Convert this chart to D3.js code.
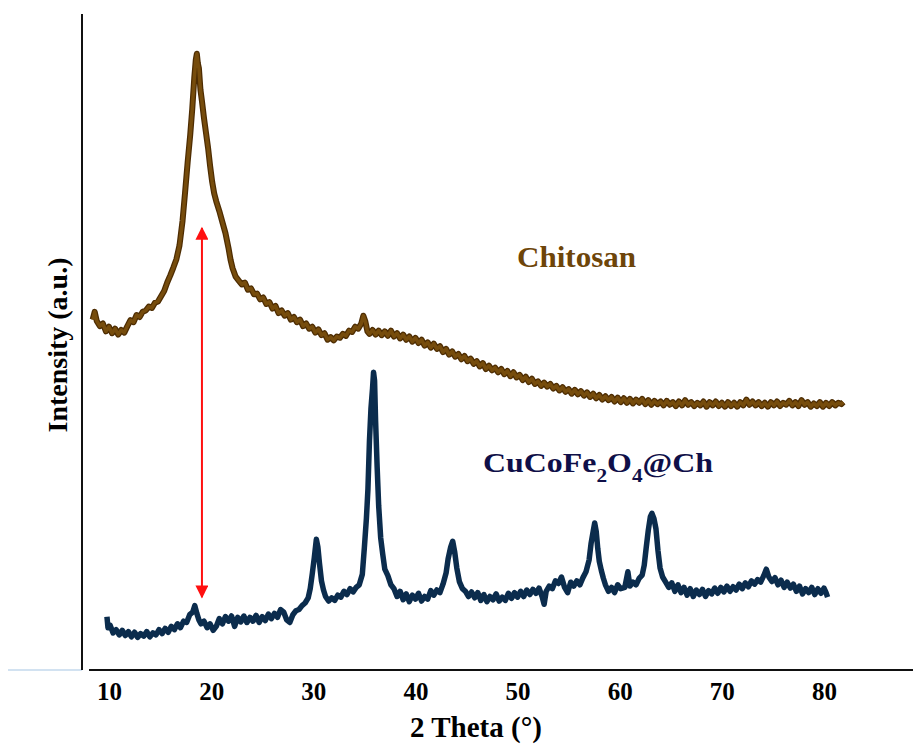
<!DOCTYPE html>
<html>
<head>
<meta charset="utf-8">
<script src="https://cdn.jsdelivr.net/npm/d3@7"></script>
<style>
  body { margin: 0; background: #fff; }
  svg { display: block; }
  .lbl { font-family: "Liberation Serif", "Times New Roman", serif; font-weight: bold; }
</style>
</head>
<body>
<div id="chart"></div>
<script>
// Tick labels on the 2-theta axis
const thetaTicks = [10, 20, 30, 40, 50, 60, 70, 80];

// Chitosan pattern: [2theta, intensity a.u.]
const chitosan = [
  [8.4,53.6],[8.6,54.8],[8.8,53.4],[9.1,52.6],[9.4,53.0],[9.7,51.8],[10.0,52.5],[10.3,51.5],
  [10.6,52.2],[10.9,51.3],[11.2,52.0],[11.5,51.6],[11.8,52.6],[12.1,53.5],[12.4,53.2],[12.7,54.3],
  [13.0,54.0],[13.3,54.8],[13.6,55.0],[13.9,55.6],[14.2,55.4],[14.5,56.2],[14.8,56.4],[15.1,57.2],
  [15.4,58.0],[15.7,59.3],[16.0,60.4],[16.3,61.6],[16.6,62.9],[16.9,65.0],[17.2,68.8],[17.45,73.2],
  [17.7,77.8],[17.95,82.0],[18.15,86.0],[18.35,90.8],[18.5,93.6],[18.6,94.5],[18.7,93.0],[18.8,92.3],
  [18.95,89.0],[19.1,87.2],[19.3,84.6],[19.5,82.3],[19.7,80.0],[19.9,77.2],[20.1,74.8],[20.3,73.0],
  [20.5,71.8],[20.8,70.3],[21.1,68.6],[21.4,66.9],[21.7,64.6],[21.9,62.8],
  [22.1,61.5],[22.4,60.2],[22.7,59.6],[23.0,59.0],[23.3,59.3],[23.6,58.2],[23.9,58.4],[24.2,57.5],
  [24.5,57.6],[24.8,56.7],[25.1,57.0],[25.4,56.0],[25.7,56.3],[26.0,55.3],[26.3,55.7],[26.6,54.6],
  [26.9,55.0],[27.2,54.2],[27.5,54.6],[27.8,53.6],[28.1,54.0],[28.4,53.2],[28.7,53.6],[29.0,52.6],
  [29.3,53.0],[29.6,52.2],[29.9,52.5],[30.2,51.6],[30.5,52.1],[30.8,51.2],[31.1,51.5],[31.4,50.5],
  [31.7,50.9],[32.0,50.4],[32.3,51.0],[32.6,50.8],[32.9,51.4],[33.2,51.1],[33.5,51.9],[33.8,51.7],
  [34.1,52.5],[34.4,52.2],[34.7,53.0],[34.9,54.2],[35.1,53.3],[35.3,51.8],
  [35.5,51.4],[35.8,52.0],[36.1,51.3],[36.4,51.9],[36.7,51.2],[37.0,51.8],[37.3,51.1],[37.6,51.9],
  [37.9,51.0],[38.2,51.5],[38.5,50.7],[38.8,51.3],[39.1,50.5],[39.4,51.0],[39.7,50.2],[40.0,50.8],
  [40.3,50.0],[40.6,50.5],[40.9,49.6],[41.2,50.1],[41.5,49.3],[41.8,49.9],[42.1,49.1],[42.4,49.5],
  [42.7,48.6],[43.0,49.1],[43.3,48.2],[43.6,48.7],[43.9,47.9],[44.2,48.3],[44.5,47.5],[44.8,48.0],
  [45.1,47.2],[45.4,47.6],[45.7,46.8],[46.0,47.2],[46.3,46.4],[46.6,46.9],[46.9,46.0],[47.2,46.5],
  [47.5,45.8],[47.8,46.2],[48.1,45.5],[48.4,46.0],[48.7,45.2],[49.0,45.7],[49.3,44.9],[49.6,45.5],
  [49.9,44.7],[50.2,45.1],[50.5,44.3],[50.8,44.8],[51.1,44.0],[51.4,44.5],[51.7,43.7],[52.0,44.1],
  [52.3,43.4],[52.6,43.9],[52.9,43.3],[53.2,43.7],[53.5,43.0],[53.8,43.4],[54.1,42.7],[54.4,43.2],
  [54.7,42.5],[55.0,42.9],[55.3,42.2],[55.6,42.8],[55.9,42.1],[56.2,42.6],[56.5,41.9],[56.8,42.4],
  [57.1,41.7],[57.4,42.2],[57.7,41.5],[58.0,42.0],[58.3,41.3],[58.6,41.8],[58.9,41.2],[59.2,41.7],
  [59.5,41.0],[59.8,41.6],[60.1,40.9],[60.4,41.5],[60.7,40.8],[61.0,41.4],[61.3,40.7],[61.6,41.3],
  [61.9,40.8],[62.2,41.4],[62.5,40.6],[62.8,41.2],[63.1,40.5],[63.4,41.1],[63.7,40.6],[64.0,41.0],
  [64.3,40.4],[64.6,41.1],[64.9,40.5],[65.2,40.9],[65.5,40.3],[65.8,41.0],[66.1,40.4],[66.4,41.2],
  [66.7,40.5],[67.0,40.9],[67.3,40.3],[67.6,40.8],[67.9,40.4],[68.2,41.0],[68.5,40.2],[68.8,40.9],
  [69.1,40.4],[69.4,41.0],[69.7,40.3],[70.0,40.8],[70.3,40.2],[70.6,40.9],[70.9,40.3],[71.2,40.8],
  [71.5,40.2],[71.8,40.9],[72.1,40.4],[72.4,41.3],[72.7,40.5],[73.0,41.0],[73.3,40.4],[73.6,40.9],
  [73.9,40.3],[74.2,40.8],[74.5,40.2],[74.8,40.9],[75.1,40.4],[75.4,41.0],[75.7,40.3],[76.0,40.8],
  [76.3,40.5],[76.6,41.1],[76.9,40.4],[77.2,40.9],[77.5,40.3],[77.8,41.2],[78.1,40.5],[78.4,40.9],
  [78.7,40.2],[79.0,40.7],[79.3,40.3],[79.6,40.9],[79.9,40.2],[80.2,40.8],[80.5,40.3],[80.8,40.9],
  [81.1,40.4],[81.4,40.8],[81.7,40.6],[81.9,40.9]
];

// CuCoFe2O4@Ch pattern: [2theta, intensity a.u.]
const cucofe = [
  [9.8,7.9],[9.9,6.2],[10.1,6.6],[10.4,5.4],[10.7,5.9],[11.0,5.1],[11.3,5.8],[11.6,5.0],
  [11.9,5.6],[12.2,4.8],[12.5,5.5],[12.8,4.7],[13.1,5.3],[13.4,4.9],[13.7,5.6],[14.0,4.8],
  [14.3,5.4],[14.6,5.1],[14.9,5.9],[15.2,5.3],[15.5,6.1],[15.8,5.5],[16.1,6.4],[16.4,5.9],
  [16.7,6.8],[17.0,6.2],[17.3,7.2],[17.6,7.0],[17.9,8.2],[18.2,8.6],[18.4,9.6],[18.6,8.4],
  [18.8,7.4],[19.0,6.8],[19.3,7.2],[19.6,6.2],[19.9,6.8],[20.2,5.8],[20.5,6.4],[20.8,7.6],
  [21.1,6.8],[21.4,7.9],[21.7,7.2],[22.0,8.0],[22.3,6.4],[22.6,7.8],[22.9,7.1],[23.2,8.0],
  [23.5,7.0],[23.8,7.8],[24.1,7.2],[24.4,8.1],[24.7,7.0],[25.0,7.9],[25.3,7.3],[25.6,8.3],
  [25.9,7.6],[26.2,8.4],[26.5,7.8],[26.8,9.0],[27.1,8.6],[27.4,7.4],[27.7,7.0],[28.0,8.2],
  [28.3,8.8],[28.6,9.0],[28.9,9.6],[29.2,10.0],[29.5,10.8],[29.7,12.2],[29.9,14.5],[30.1,17.0],
  [30.3,19.8],[30.45,18.6],[30.6,16.2],[30.8,13.4],[31.0,12.0],[31.2,11.0],[31.5,10.3],[31.8,10.8],
  [32.1,10.4],[32.4,11.2],[32.7,10.9],[33.0,11.8],[33.3,11.3],[33.6,12.2],[33.9,11.7],[34.2,12.4],
  [34.5,12.8],[34.8,14.4],[35.0,18.5],[35.2,23.0],[35.35,27.5],[35.5,35.0],[35.65,40.0],[35.8,43.0],
  [35.9,45.5],[36.0,44.2],[36.1,38.0],[36.25,31.0],[36.4,25.0],[36.6,20.0],[36.8,17.5],[37.0,15.2],
  [37.3,14.2],[37.6,12.8],[37.9,12.2],[38.2,11.0],[38.5,11.8],[38.8,10.5],[39.1,11.4],[39.4,10.2],
  [39.7,11.2],[40.0,10.6],[40.3,11.5],[40.6,10.3],[40.9,11.0],[41.2,10.6],[41.5,11.9],[41.8,11.2],
  [42.1,12.0],[42.4,11.6],[42.7,12.9],[43.0,14.6],[43.2,16.8],[43.45,18.6],[43.65,19.5],[43.85,17.8],
  [44.05,15.4],[44.3,13.3],[44.6,12.2],[44.9,11.8],[45.2,11.0],[45.5,11.7],[45.8,10.8],[46.1,11.6],
  [46.4,10.4],[46.7,11.3],[47.0,10.2],[47.3,11.0],[47.6,10.5],[47.9,11.4],[48.2,10.3],[48.5,10.9],
  [48.8,10.4],[49.1,11.5],[49.4,10.7],[49.7,11.6],[50.0,10.9],[50.3,11.8],[50.6,11.0],[50.9,12.0],
  [51.2,11.3],[51.5,12.1],[51.8,11.5],[52.1,12.3],[52.4,11.0],[52.6,9.8],[52.8,11.8],[53.1,12.6],
  [53.4,12.2],[53.7,13.4],[54.0,13.0],[54.3,14.0],[54.6,12.4],[54.9,11.6],[55.2,13.2],[55.5,12.6],
  [55.8,13.4],[56.1,12.8],[56.4,13.9],[56.7,14.8],[57.0,16.6],[57.2,19.2],[57.4,21.0],[57.55,22.3],
  [57.7,21.0],[57.85,18.4],[58.0,16.4],[58.2,15.0],[58.4,13.8],[58.6,12.8],[58.9,11.8],[59.2,12.4],
  [59.5,11.6],[59.8,12.8],[60.1,12.2],[60.5,12.4],[60.8,14.8],[61.0,12.6],[61.3,13.2],[61.6,12.8],
  [61.9,13.8],[62.2,14.3],[62.4,15.8],[62.6,18.6],[62.8,21.2],[63.0,23.3],[63.15,23.8],[63.35,23.0],
  [63.55,21.4],[63.75,18.0],[63.95,15.4],[64.2,14.0],[64.5,13.2],[64.8,12.4],[65.1,13.1],[65.4,11.8],
  [65.7,12.8],[66.0,11.6],[66.3,12.4],[66.6,11.2],[66.9,12.2],[67.2,11.0],[67.5,12.0],[67.8,11.3],
  [68.1,12.1],[68.4,11.0],[68.7,11.9],[69.0,11.4],[69.3,12.3],[69.6,11.5],[69.9,12.4],[70.2,11.7],
  [70.5,12.6],[70.8,11.8],[71.1,12.5],[71.4,12.0],[71.7,12.9],[72.0,12.2],[72.3,13.1],[72.6,12.5],
  [72.9,13.4],[73.2,12.9],[73.5,13.6],[73.8,13.2],[74.1,14.2],[74.35,15.2],[74.6,14.0],[74.9,13.3],
  [75.2,13.9],[75.5,12.8],[75.8,13.5],[76.1,12.4],[76.4,13.2],[76.7,12.3],[77.0,12.9],[77.3,11.8],
  [77.6,12.6],[77.9,11.4],[78.2,12.2],[78.5,11.6],[78.8,12.4],[79.1,11.3],[79.4,12.2],[79.7,11.5],
  [80.0,12.3],[80.2,11.6],[80.35,10.9]
];

// Red double arrow between the two 19° features
const arrowTheta = 19.1;
const arrowFrom = 10.9;
const arrowTo = 67.7;

const width = 913, height = 746;

const svg = d3.select("#chart")
  .append("svg")
    .attr("width", width)
    .attr("height", height);

const x = d3.scaleLinear().domain([10, 80]).range([109, 824]);
const y = d3.scaleLinear().domain([0, 100]).range([668, 18]);

// axis lines
svg.append("line")
  .attr("x1", 8).attr("x2", 82).attr("y1", 670).attr("y2", 670)
  .attr("stroke", "#c3d8ec").attr("stroke-width", 1.5);
svg.append("line")
  .attr("x1", 82).attr("x2", 82).attr("y1", 14).attr("y2", 670)
  .attr("stroke", "#111").attr("stroke-width", 2);
svg.append("line")
  .attr("x1", 89).attr("x2", 913).attr("y1", 670).attr("y2", 670)
  .attr("stroke", "#111").attr("stroke-width", 2);

// tick labels
const xAxis = svg.append("g")
  .attr("transform", "translate(0,670)")
  .call(d3.axisBottom(x).tickValues(thetaTicks).tickSize(0).tickPadding(12).tickFormat(d3.format("d")));
xAxis.select(".domain").remove();
xAxis.selectAll("text")
  .attr("class", "lbl")
  .style("font-size", "25px")
  .attr("fill", "#000");

// axis titles
svg.append("text")
  .attr("class", "lbl")
  .attr("x", 476).attr("y", 737)
  .attr("text-anchor", "middle")
  .style("font-size", "29px")
  .text("2 Theta (°)");

svg.append("text")
  .attr("class", "lbl")
  .attr("transform", "translate(67,345)rotate(-90)")
  .attr("text-anchor", "middle")
  .style("font-size", "28px")
  .text("Intensity (a.u.)");

// traces
const line = d3.line()
  .x(d => x(d[0]))
  .y(d => y(d[1]));

svg.append("path")
  .datum(chitosan)
  .attr("d", line)
  .attr("fill", "none")
  .attr("stroke", "#4d2c02")
  .attr("stroke-width", 6)
  .attr("stroke-linejoin", "round");
svg.append("path")
  .datum(chitosan)
  .attr("d", line)
  .attr("fill", "none")
  .attr("stroke", "#764c0c")
  .attr("stroke-width", 3.5)
  .attr("stroke-linejoin", "round");

svg.append("path")
  .datum(cucofe)
  .attr("d", line)
  .attr("fill", "none")
  .attr("stroke", "#0b2c4d")
  .attr("stroke-width", 5.5)
  .attr("stroke-linejoin", "round");

// arrow
const defs = svg.append("defs");
defs.append("marker")
  .attr("id", "head")
  .attr("viewBox", "0 0 10 10")
  .attr("refX", 9).attr("refY", 5)
  .attr("markerWidth", 20).attr("markerHeight", 13)
  .attr("markerUnits", "userSpaceOnUse")
  .attr("orient", "auto-start-reverse")
  .append("path")
    .attr("d", "M0,0L10,5L0,10Z")
    .attr("fill", "#ff1010");

svg.append("line")
  .attr("x1", x(arrowTheta)).attr("x2", x(arrowTheta))
  .attr("y1", y(arrowFrom)).attr("y2", y(arrowTo))
  .attr("stroke", "#ff1010")
  .attr("stroke-width", 2)
  .attr("marker-start", "url(#head)")
  .attr("marker-end", "url(#head)");

// series labels
svg.append("text")
  .attr("class", "lbl")
  .attr("x", 517).attr("y", 267)
  .attr("textLength", 119)
  .attr("lengthAdjust", "spacingAndGlyphs")
  .style("font-size", "29px")
  .attr("fill", "#6e4509")
  .text("Chitosan");

const cu = svg.append("text")
  .attr("class", "lbl")
  .attr("x", 483).attr("y", 472)
  .attr("textLength", 230)
  .attr("lengthAdjust", "spacingAndGlyphs")
  .style("font-size", "27px")
  .attr("fill", "#0f0f48");
cu.append("tspan").text("CuCoFe");
cu.append("tspan").attr("baseline-shift", "sub").style("font-size", "18px").text("2");
cu.append("tspan").text("O");
cu.append("tspan").attr("baseline-shift", "sub").style("font-size", "18px").text("4");
cu.append("tspan").text("@Ch");
</script>
</body>
</html>
